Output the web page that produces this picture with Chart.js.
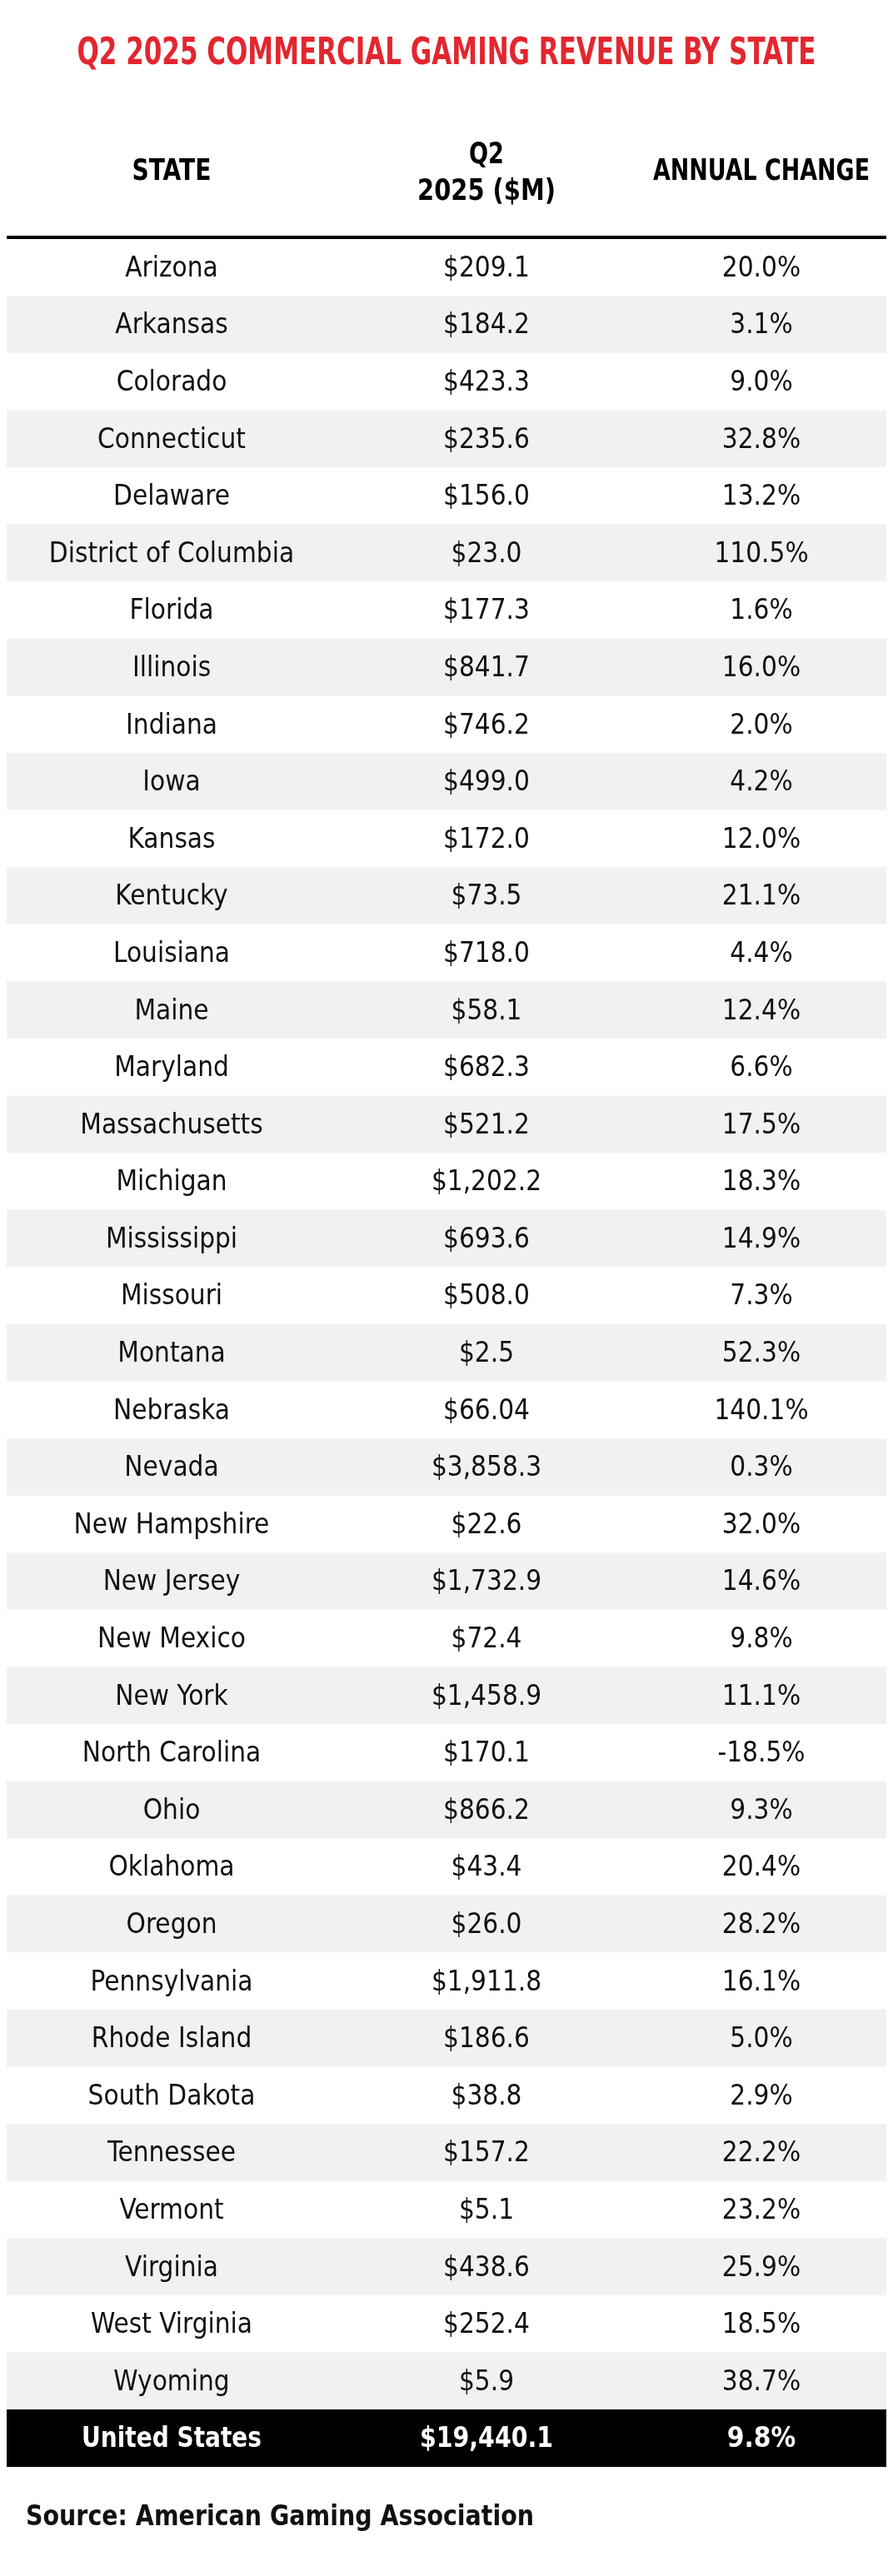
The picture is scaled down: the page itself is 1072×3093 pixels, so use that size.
<!DOCTYPE html>
<html><head><meta charset="utf-8">
<script src="https://cdn.jsdelivr.net/npm/chart.js@4"></script>
<style>html,body{margin:0;padding:0;background:#fff}canvas{display:block}</style>
</head><body>
<canvas id="c" width="1072" height="3093"></canvas>
<script>
const title = "Q2 2025 COMMERCIAL GAMING REVENUE BY STATE";
const headers = ["STATE", ["Q2", "2025 ($M)"], "ANNUAL CHANGE"];
const states = ["Arizona","Arkansas","Colorado","Connecticut","Delaware","District of Columbia","Florida","Illinois","Indiana","Iowa","Kansas","Kentucky","Louisiana","Maine","Maryland","Massachusetts","Michigan","Mississippi","Missouri","Montana","Nebraska","Nevada","New Hampshire","New Jersey","New Mexico","New York","North Carolina","Ohio","Oklahoma","Oregon","Pennsylvania","Rhode Island","South Dakota","Tennessee","Vermont","Virginia","West Virginia","Wyoming"];
const revenue = [209.1,184.2,423.3,235.6,156.0,23.0,177.3,841.7,746.2,499.0,172.0,73.5,718.0,58.1,682.3,521.2,1202.2,693.6,508.0,2.5,66.04,3858.3,22.6,1732.9,72.4,1458.9,170.1,866.2,43.4,26.0,1911.8,186.6,38.8,157.2,5.1,438.6,252.4,5.9];
const change = [20.0,3.1,9.0,32.8,13.2,110.5,1.6,16.0,2.0,4.2,12.0,21.1,4.4,12.4,6.6,17.5,18.3,14.9,7.3,52.3,140.1,0.3,32.0,14.6,9.8,11.1,-18.5,9.3,20.4,28.2,16.1,5.0,2.9,22.2,23.2,25.9,18.5,38.7];
const totalLabel = "United States";
const totalRevenue = 19440.1;
const totalChange = 9.8;
const source = "Source: American Gaming Association";

const rows = states.concat([totalLabel]);
const revAll = revenue.concat([totalRevenue]);
const chgAll = change.concat([totalChange]);
const fmtRev = v => "$" + v.toLocaleString("en-US",{minimumFractionDigits:1,maximumFractionDigits:2});
const fmtChg = v => v.toFixed(1) + "%";
const colX = [206, 584, 914];

function drawFit(ctx, text, x, y, font, color, maxW, align) {
  ctx.save();
  ctx.font = font; ctx.fillStyle = color; ctx.textBaseline = "middle";
  const w = ctx.measureText(text).width;
  const s = maxW && w > maxW ? maxW / w : 1;
  ctx.translate(x, y); ctx.scale(s, 1);
  ctx.textAlign = align || "center";
  ctx.fillText(text, 0, 0);
  ctx.restore();
}

const tablePlugin = {
  id: "tableText",
  afterDatasetsDraw(chart) {
    const ctx = chart.ctx, ys = chart.scales.y;
    const cond = "'DejaVu Sans Condensed','DejaVu Sans',sans-serif";
    drawFit(ctx, title, 536, 66, "bold 44px " + cond, "#e3262f", 887);
    drawFit(ctx, headers[0], colX[0], 207, "bold 36px " + cond, "#000", 95);
    drawFit(ctx, headers[1][0], colX[1], 187, "bold 36px " + cond, "#000", 42);
    drawFit(ctx, headers[1][1], colX[1], 231, "bold 36px " + cond, "#000", 166);
    drawFit(ctx, headers[2], colX[2], 207, "bold 36px " + cond, "#000", 260);
    ctx.save(); ctx.fillStyle = "#000"; ctx.fillRect(8, 283, 1056, 4); ctx.restore();
    rows.forEach((r, i) => {
      const y = ys.getPixelForValue(i) + 2;
      const last = i === rows.length - 1;
      const font = (last ? "bold " : "") + "33px " + cond;
      const col = last ? "#fff" : "#111";
      drawFit(ctx, r, colX[0], y, font, col, last ? 216 : 300);
      drawFit(ctx, fmtRev(revAll[i]), colX[1], y, font, col, last ? 160 : 200);
      drawFit(ctx, fmtChg(chgAll[i]), colX[2], y, font, col, last ? 85 : 200);
    });
    drawFit(ctx, source, 31, 3023, "bold 33px " + cond, "#111", 610, "left");
  }
};

new Chart(document.getElementById("c"), {
  type: "bar",
  data: {
    labels: rows,
    datasets: [{
      data: rows.map(() => 1),
      backgroundColor: rows.map((r, i) => i === rows.length - 1 ? "#000" : (i % 2 ? "#f1f1f1" : "#ffffff")),
      barPercentage: 1, categoryPercentage: 1, borderWidth: 0
    }]
  },
  options: {
    indexAxis: "y", responsive: false, animation: false, devicePixelRatio: 1,
    layout: { padding: { top: 287, bottom: 131, left: 8, right: 8 } },
    plugins: { legend: { display: false }, tooltip: { enabled: false } },
    scales: {
      x: { display: false, min: 0, max: 1 },
      y: { display: false, offset: true }
    }
  },
  plugins: [tablePlugin]
});
</script>
</body></html>
